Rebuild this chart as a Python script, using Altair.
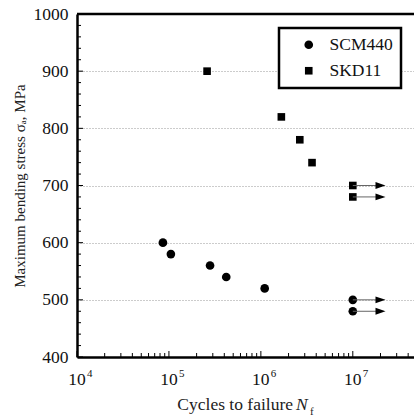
import altair as alt
import pandas as pd

# ---- data ----
scm_cycles = [8.6e4, 1.05e5, 2.8e5, 4.2e5, 1.1e6, 1.0e7, 1.0e7]
scm_stress = [600, 580, 560, 540, 520, 500, 480]
scm_runout = [False, False, False, False, False, True, True]

skd_cycles = [2.6e5, 1.67e6, 2.65e6, 3.6e6, 1.0e7, 1.0e7]
skd_stress = [900, 820, 780, 740, 700, 680]
skd_runout = [False, False, False, False, True, True]

runout_arrow_end = 2.0e7

series_names = ["SCM440", "SKD11"]

x_major = [1e4, 1e5, 1e6, 1e7]
x_major_base = ["10", "10", "10", "10"]
x_major_exp = ["4", "5", "6", "7"]
x_minor = [2e4, 3e4, 4e4, 5e4, 6e4, 7e4, 8e4, 9e4,
           2e5, 3e5, 4e5, 5e5, 6e5, 7e5, 8e5, 9e5,
           2e6, 3e6, 4e6, 5e6, 6e6, 7e6, 8e6, 9e6,
           2e7, 3e7, 4e7]
y_major = [400, 500, 600, 700, 800, 900, 1000]
y_minor = [420, 440, 460, 480, 520, 540, 560, 580, 620, 640, 660, 680,
           720, 740, 760, 780, 820, 840, 860, 880, 920, 940, 960, 980]

x_domain = [1e4, 4.63e7]
y_domain = [400, 1000]

W, H = 337, 343
FONT = "Liberation Serif"
FS = 17.5

# ---- tables ----
pts = pd.DataFrame({
    "cycles": scm_cycles + skd_cycles,
    "stress": scm_stress + skd_stress,
    "series": [series_names[0]] * len(scm_cycles) + [series_names[1]] * len(skd_cycles),
    "runout": scm_runout + skd_runout,
})
run = pts[pts["runout"]].copy()
run["end"] = runout_arrow_end

xs = alt.Scale(type="log", domain=x_domain, nice=False)
ys = alt.Scale(domain=y_domain, nice=False, zero=False)

x_axis = alt.Axis(
    values=x_major, labels=False, ticks=False, grid=False, title=None,
    domainColor="black", domainWidth=2.5)
y_axis = alt.Axis(
    values=y_major, format="d", ticks=False, grid=True, gridDash=[1, 2], gridColor="#999",
    gridWidth=1, title="Maximum bending stress σₐ, MPa", titleFontSize=15,
    titleFontWeight="normal", titleFont=FONT, titleColor="#222", titlePadding=6,
    labelFontSize=FS, labelPadding=9, labelColor="#111", labelFont=FONT,
    domainColor="black", domainWidth=2.5)

legend = alt.Legend(title=None)

points = alt.Chart(pts).mark_point(filled=True, opacity=1, color="black").encode(
    x=alt.X("cycles:Q", scale=xs, axis=x_axis),
    y=alt.Y("stress:Q", scale=ys, axis=y_axis),
    shape=alt.Shape("series:N", scale=alt.Scale(domain=series_names, range=["circle", "square"]),
                    legend=legend),
    size=alt.Size("series:N", scale=alt.Scale(domain=series_names, range=[75, 58]),
                  legend=legend),
)

runout_lines = alt.Chart(run).mark_rule(color="#666", strokeWidth=1).encode(
    x=alt.X("cycles:Q", scale=xs, axis=x_axis), x2="end:Q",
    y=alt.Y("stress:Q", scale=ys, axis=y_axis))

arrow_heads = alt.Chart(run).mark_point(
    shape="M-1,-0.68L1,0L-1,0.68Z", filled=True, opacity=1, color="black", size=100).encode(
    x=alt.X("end:Q", scale=xs, axis=x_axis), y=alt.Y("stress:Q", scale=ys, axis=y_axis))

xmin_df = pd.DataFrame({"v": x_minor})
xmaj_df = pd.DataFrame({"v": x_major, "base": x_major_base, "exp": x_major_exp})
ymin_df = pd.DataFrame({"v": y_minor})
ymaj_df = pd.DataFrame({"v": y_major})

x_minor_ticks = alt.Chart(xmin_df).mark_rule(color="black", strokeWidth=1).encode(
    x=alt.X("v:Q", scale=xs, axis=x_axis), y=alt.value(H), y2=alt.value(H - 4))
x_major_ticks = alt.Chart(xmaj_df).mark_rule(color="black", strokeWidth=1).encode(
    x=alt.X("v:Q", scale=xs, axis=x_axis), y=alt.value(H), y2=alt.value(H - 6))
y_minor_ticks = alt.Chart(ymin_df).mark_rule(color="black", strokeWidth=1).encode(
    y=alt.Y("v:Q", scale=ys, axis=y_axis), x=alt.value(0), x2=alt.value(4))
y_major_ticks = alt.Chart(ymaj_df).mark_rule(color="black", strokeWidth=1).encode(
    y=alt.Y("v:Q", scale=ys, axis=y_axis), x=alt.value(0), x2=alt.value(6))

x_lab_base = alt.Chart(xmaj_df).mark_text(font=FONT, fontSize=FS, align="center",
                                          baseline="alphabetic", color="#111").encode(
    x=alt.X("v:Q", scale=xs, axis=x_axis), y=alt.value(H + 28), text="base:N")
x_lab_exp = alt.Chart(xmaj_df).mark_text(font=FONT, fontSize=11, align="left", dx=10,
                                         baseline="alphabetic", color="#111").encode(
    x=alt.X("v:Q", scale=xs, axis=x_axis), y=alt.value(H + 20), text="exp:N")

top_border = alt.Chart(pd.DataFrame({"a": [0]})).mark_rule(color="black", strokeWidth=2.5).encode(
    x=alt.value(0), x2=alt.value(W), y=alt.value(0))

title_df = pd.DataFrame({"a": [0]})
t1 = alt.Chart(title_df).mark_text(font=FONT, fontSize=FS, align="right", baseline="alphabetic",
                                   color="#222").encode(
    x=alt.value(216), y=alt.value(396), text=alt.value("Cycles to failure"))
t2 = alt.Chart(title_df).mark_text(font=FONT, fontSize=FS, fontStyle="italic", align="left",
                                   baseline="alphabetic", color="#222").encode(
    x=alt.value(219), y=alt.value(396), text=alt.value("N"))
t3 = alt.Chart(title_df).mark_text(font=FONT, fontSize=11, align="left",
                                   baseline="alphabetic", color="#222").encode(
    x=alt.value(233), y=alt.value(401), text=alt.value("f"))

chart = alt.layer(
    points, runout_lines, arrow_heads,
    x_minor_ticks, x_major_ticks, y_minor_ticks, y_major_ticks,
    x_lab_base, x_lab_exp,
    top_border, t1, t2, t3,
).properties(
    width=W, height=H,
    autosize=alt.AutoSizeParams(type="none"),
    padding={"left": 77, "top": 14, "right": 0, "bottom": 63},
).configure(font=FONT).configure_view(stroke=None).configure_legend(
    orient="none", legendX=202, legendY=14,
    strokeColor="black", strokeWidth=2.5, fillColor="white",
    padding=8, symbolOffset=13, labelOffset=12, rowPadding=7,
    symbolFillColor="black", symbolStrokeWidth=0,
    labelFont=FONT, labelFontSize=FS, labelColor="#111",
)

chart.save("out.html", embed_options={"renderer": "svg", "actions": False})
